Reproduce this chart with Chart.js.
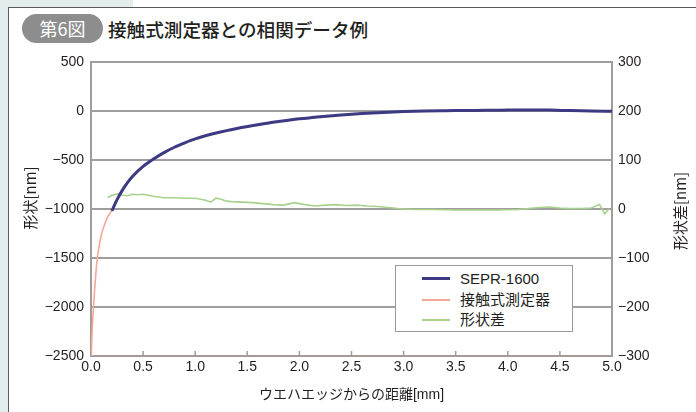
<!DOCTYPE html>
<html><head><meta charset="utf-8">
<script src="https://cdn.jsdelivr.net/npm/chart.js@4.4.1/dist/chart.umd.min.js"></script>
<style>
html,body{margin:0;padding:0;background:#fff;}
#wrap{position:relative;width:696px;height:412px;overflow:hidden;font-family:'Liberation Sans','Noto Sans CJK JP',sans-serif;}
#stripL{position:absolute;left:0;top:0;width:8px;height:412px;background:#e3eded;}
#stripT{position:absolute;left:0;top:0;width:133px;height:7px;background:#e3eded;}
#box{position:absolute;left:8px;top:7px;width:700px;height:420px;border-left:1.5px solid #5a5a5a;border-top:1.5px solid #5a5a5a;box-sizing:border-box;background:#fff;}
#pill{position:absolute;left:22px;top:14px;width:81px;height:29px;border-radius:15px;background:#8d8d8d;color:#fff;font-size:18px;line-height:29px;text-align:center;font-family:'Noto Sans CJK JP',sans-serif;}
#title{position:absolute;left:108px;top:14px;height:29px;line-height:29px;font-size:18.6px;color:#231f20;font-family:'Noto Sans CJK JP',sans-serif;font-weight:500;}
canvas{position:absolute;left:0;top:0;}
#legend{position:absolute;left:395px;top:265px;width:178px;height:67px;box-sizing:border-box;border:1.5px solid #9a9a9a;background:#fff;font-size:15px;color:#231f20;}
.row{position:absolute;left:0;height:20px;line-height:20px;}
.row span.ln{position:absolute;left:26px;top:9px;width:28px;}
.row span.tx{position:absolute;left:64px;top:0;white-space:nowrap;}
</style></head>
<body>
<div id="wrap">
<div id="stripL"></div><div id="stripT"></div><div id="box"></div>
<div id="pill">第6図</div>
<div id="title">接触式測定器との相関データ例</div>
<canvas id="c" width="696" height="412" style="width:696px;height:412px"></canvas>
<div id="legend"></div>
</div>
<script>
// ---- data ----
const seprX = [0.2,0.25,0.3,0.35,0.4,0.5,0.6,0.7,0.8,0.9,1.0,1.2,1.4,1.6,1.8,2.0,2.2,2.4,2.6,2.8,3.0,3.2,3.4,3.6,3.8,4.0,4.2,4.4,4.6,4.8,5.0];
const seprY = [-1020,-905,-810,-730,-665,-565,-490,-425,-370,-325,-285,-225,-178,-140,-108,-80,-58,-40,-26,-15,-6,0,3,5,8,9,10,9,4,0,-3];
const contactX = [0.003,0.007,0.012,0.018,0.025,0.035,0.045,0.06,0.08,0.1,0.13,0.16,0.2,0.25,0.3,0.35,0.4,0.5,0.6,0.7,0.8,0.9,1.0,1.2,1.4,1.6,1.8,2.0,2.2,2.4,2.6,2.8,3.0,3.2,3.4,3.6,3.8,4.0,4.2,4.4,4.6,4.8,5.0];
const contactY = [-2500,-2350,-2220,-2110,-1990,-1820,-1680,-1500,-1370,-1260,-1160,-1080,-1015,-905,-812,-733,-668,-568,-493,-428,-373,-328,-288,-228,-181,-143,-110,-82,-60,-42,-28,-17,-8,-2,1,3,6,7,8,7,2,-2,-5];
const diffX = [0.16,0.2,0.26,0.3,0.35,0.4,0.45,0.5,0.6,0.7,0.8,0.9,1.0,1.1,1.15,1.2,1.25,1.3,1.35,1.45,1.55,1.65,1.75,1.85,1.95,2.05,2.15,2.25,2.35,2.45,2.55,2.65,2.75,2.85,2.95,3.1,3.3,3.5,3.7,3.9,4.1,4.2,4.3,4.4,4.5,4.6,4.7,4.8,4.88,4.93,4.97];
const diffY = [23,28,31,28,27,30,29,30,26,23,23,22,22,18,14,22,20,16,15,14,13,11,9,8,13,9,6,8,9,7,8,6,5,3,1,-1,-1,-2,-2,-2,-1,1,3,4,2,1,1,2,9,-10,0];
const seriesNames = ['SEPR-1600','接触式測定器','形状差'];
const seriesColors = ['#3b3a82','#f3a898','#a9d18e'];
const xTicks = {min:0,max:5,step:0.5};
const yTicks = {min:-2500,max:500,step:500};
const y2Ticks = {min:-300,max:300,step:100};
const yTitle = '形状[nm]', y2Title = '形状差[nm]', xTitle = 'ウエハエッジからの距離[mm]';

const pts = (xs,ys)=>xs.map((x,i)=>({x:x,y:ys[i]}));
const FONT = "'Liberation Sans','Noto Sans CJK JP',sans-serif";
const TXT = '#231f20';
const minus = v => String(v).replace('-','\u2212');

const deco = {
  id:'deco',
  afterDraw(chart){
    const ctx = chart.ctx, ca = chart.chartArea, xs = chart.scales.x;
    ctx.save();
    ctx.strokeStyle = '#a39a9a'; ctx.lineWidth = 1.5;
    xs.ticks.forEach(t=>{
      if (t.value<=xTicks.min || t.value>=xTicks.max) return;
      const px = xs.getPixelForValue(t.value);
      ctx.beginPath(); ctx.moveTo(px, ca.bottom); ctx.lineTo(px, ca.bottom-5); ctx.stroke();
    });
    ctx.fillStyle = TXT; ctx.font = "15px 'Noto Sans CJK JP',sans-serif";
    ctx.textAlign='center'; ctx.textBaseline='middle';
    ctx.translate(ca.left-61, (ca.top+ca.bottom)/2-11); ctx.rotate(-Math.PI/2);
    ctx.fillText(yTitle,0,0);
    ctx.setTransform(1,0,0,1,0,0);
    ctx.translate(ca.right+68, (ca.top+ca.bottom)/2+2); ctx.rotate(-Math.PI/2);
    ctx.fillText(y2Title,0,0);
    ctx.restore();
  }
};

new Chart(document.getElementById('c'), {
  type:'line',
  data:{datasets:[
    {label:seriesNames[1], data:pts(contactX,contactY), borderColor:seriesColors[1], borderWidth:1.6, pointRadius:0, yAxisID:'y', cubicInterpolationMode:'monotone', order:3},
    {label:seriesNames[2], data:pts(diffX,diffY), borderColor:seriesColors[2], borderWidth:1.6, pointRadius:0, yAxisID:'y2', tension:0, order:2},
    {label:seriesNames[0], data:pts(seprX,seprY), borderColor:seriesColors[0], borderWidth:3, pointRadius:0, yAxisID:'y', cubicInterpolationMode:'monotone', order:1}
  ]},
  options:{
    responsive:false, animation:false, devicePixelRatio:1,
    layout:{padding:{left:14,right:0,top:62,bottom:8}},
    plugins:{legend:{display:false}, tooltip:{enabled:false}},
    scales:{
      x:{type:'linear', min:xTicks.min, max:xTicks.max,
        ticks:{stepSize:xTicks.step, callback:v=>Number(v).toFixed(1), font:{family:FONT,size:14}, color:TXT, maxRotation:0, autoSkip:false, padding:3},
        grid:{display:true, drawOnChartArea:false, drawTicks:false},
        border:{color:'#a39a9a', width:2},
        title:{display:true, text:xTitle, font:{family:FONT,size:14}, color:TXT, padding:{top:2,bottom:0}},
        afterFit:s=>{s.height=48;}
      },
      y:{position:'left', min:yTicks.min, max:yTicks.max,
        ticks:{stepSize:yTicks.step, callback:v=>minus(v), font:{family:FONT,size:14}, color:TXT, padding:7},
        grid:{color:'#9e9e9e', lineWidth:2, drawTicks:false},
        border:{color:'#a39a9a', width:2},
        afterFit:s=>{s.width=77;}
      },
      y2:{position:'right', min:y2Ticks.min, max:y2Ticks.max,
        ticks:{stepSize:y2Ticks.step, callback:v=>minus(v), font:{family:FONT,size:14}, color:TXT, padding:6},
        grid:{drawOnChartArea:false, drawTicks:false},
        border:{color:'#a39a9a', width:2},
        afterFit:s=>{s.width=84;}
      }
    }
  },
  plugins:[deco]
});

const lg = document.getElementById('legend');
[0,1,2].forEach((k,i)=>{
  const r = document.createElement('div'); r.className='row'; r.style.top=(3+i*20.5)+'px'; r.style.width='100%';
  const l = document.createElement('span'); l.className='ln';
  l.style.borderTop = (k===0?3:2)+'px solid '+seriesColors[k];
  if(k===0) l.style.top='8px';
  const t = document.createElement('span'); t.className='tx'; t.textContent=seriesNames[k];
  r.appendChild(l); r.appendChild(t); lg.appendChild(r);
});
</script>
</body></html>
